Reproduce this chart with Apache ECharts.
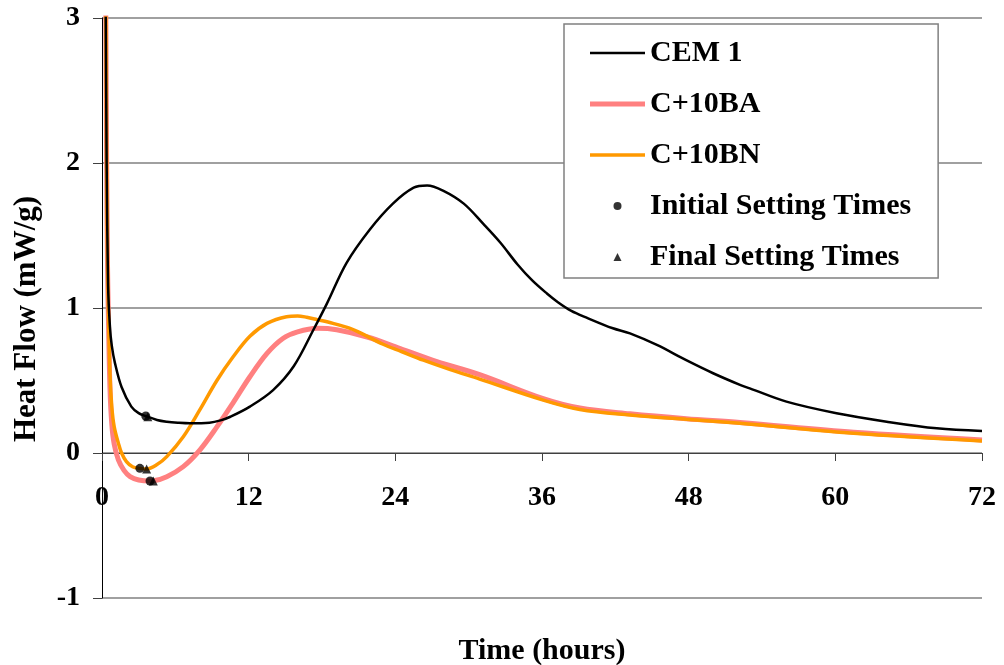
<!DOCTYPE html>
<html>
<head>
<meta charset="utf-8">
<script src="https://cdn.jsdelivr.net/npm/echarts@6/dist/echarts.min.js"></script>
<style>
html,body{margin:0;padding:0;background:#fff;}
#chart{width:1004px;height:665px;}
</style>
</head>
<body>
<div id="chart"></div>
<script>
// Data (time in hours, heat flow in mW/g)
const seriesNames = ['CEM 1', 'C+10BA', 'C+10BN', 'Initial Setting Times', 'Final Setting Times'];
const xTicks = [0, 12, 24, 36, 48, 60, 72];
const yTicks = [-1, 0, 1, 2, 3];

const cem1 = [
  [0.25, 3.6], [0.3, 3.1], [0.38, 2.0], [0.5, 1.15], [0.65, 0.87], [0.8, 0.74], [1.06, 0.62],
  [1.6, 0.455], [2.4, 0.32], [3.0, 0.275], [3.58, 0.255], [4.5, 0.228], [5.3, 0.216], [6.2, 0.209],
  [7.2, 0.205], [8.8, 0.209], [9.7, 0.225], [10.5, 0.25], [12.1, 0.32], [14.0, 0.434], [15.7, 0.6],
  [17.3, 0.85], [18.4, 1.03], [20.0, 1.31], [21.9, 1.54], [23.8, 1.72], [25.5, 1.83], [26.6, 1.845],
  [27.9, 1.81], [29.6, 1.72], [31.2, 1.58], [32.6, 1.45], [34.0, 1.30], [35.2, 1.19], [36.4, 1.10],
  [37.3, 1.04], [38.4, 0.98], [39.6, 0.935], [41.8, 0.86], [43.2, 0.825], [45.4, 0.745], [47.8, 0.64],
  [50.0, 0.55], [52.2, 0.47], [53.0, 0.446], [56.0, 0.354], [60.1, 0.274], [64.2, 0.216], [68.3, 0.17],
  [72, 0.152]
];
const c10ba = [
  [0.28, 3.4], [0.33, 2.8], [0.38, 2.0], [0.45, 1.3], [0.52, 0.95], [0.65, 0.45], [0.8, 0.2],
  [1.0, 0.06], [1.34, -0.048], [1.8, -0.12], [2.3, -0.163], [3.0, -0.186], [3.93, -0.193],
  [4.2, -0.192], [5.3, -0.163], [6.65, -0.094], [8.0, 0.02], [9.4, 0.18], [10.7, 0.343],
  [12.1, 0.526], [13.5, 0.687], [14.8, 0.79], [16.0, 0.835], [17.6, 0.86], [19.2, 0.85],
  [21.7, 0.80], [24.4, 0.72], [27.4, 0.63], [30.9, 0.54], [36.1, 0.375], [39.1, 0.31],
  [43.2, 0.27], [47.8, 0.236], [52.2, 0.21], [61.5, 0.143], [72, 0.09]
];
const c10bn = [
  [0.28, 3.4], [0.33, 2.8], [0.38, 2.0], [0.45, 1.35], [0.52, 1.0], [0.65, 0.55], [0.8, 0.32],
  [1.0, 0.18], [1.34, 0.067], [1.6, 0.0], [2.0, -0.06], [2.5, -0.095], [3.1, -0.106], [3.65, -0.11],
  [4.5, -0.08], [5.3, -0.025], [6.65, 0.112], [8.0, 0.297], [9.4, 0.5], [10.7, 0.66], [12.1, 0.805],
  [13.5, 0.894], [15.1, 0.94], [16.0, 0.945], [16.75, 0.936], [17.6, 0.92], [18.9, 0.894],
  [20.3, 0.86], [21.1, 0.83], [23.0, 0.75], [24.5, 0.70], [26.3, 0.64], [28.5, 0.575],
  [30.9, 0.51], [36.1, 0.365], [39.1, 0.30], [43.2, 0.262], [47.8, 0.232], [50.6, 0.216],
  [52.2, 0.205], [61.5, 0.136], [72, 0.083]
];
const initialSet = [[3.58, 0.255], [3.1, -0.106], [3.93, -0.193]];
const finalSet = [[3.75, 0.25], [3.65, -0.11], [4.2, -0.193]];

const FONT = "'Liberation Serif', 'Times New Roman', serif";
const chart = echarts.init(document.getElementById('chart'), null, {renderer: 'canvas'});

// grid: 580px tall for 4 units -> the 0 line is 145px above the bottom edge
const ZERO_OFFSET = -145;

chart.setOption({
  animation: false,
  backgroundColor: '#fff',
  grid: {left: 102, right: 22, top: 18, bottom: 67, outerBoundsMode: 'none'},
  legend: {
    orient: 'vertical',
    left: 564, top: 24,
    padding: [14, 27, 6, 26],
    borderColor: '#808080', borderWidth: 1.5,
    backgroundColor: '#fff',
    itemWidth: 55, itemHeight: 8, itemGap: 21,
    symbolKeepAspect: true,
    textStyle: {fontFamily: FONT, fontWeight: 'bold', fontSize: 30, color: '#000'},
    data: [
      {name: seriesNames[0], icon: 'path://M0,0H55V2.5H0Z'},
      {name: seriesNames[1], icon: 'path://M0,0H55V5H0Z'},
      {name: seriesNames[2], icon: 'path://M0,0H55V3.5H0Z'},
      {name: seriesNames[3], icon: 'circle'},
      {name: seriesNames[4], icon: 'path://M4,0L8,8L0,8Z'}
    ],
    z: 10
  },
  xAxis: {
    type: 'value', min: 0, max: 72, interval: 12,
    offset: ZERO_OFFSET,
    name: 'Time (hours)', nameLocation: 'middle', nameGap: 183,
    nameTextStyle: {fontFamily: FONT, fontWeight: 'bold', fontSize: 30, color: '#000'},
    axisLine: {onZero: false, lineStyle: {color: '#404040', width: 1}},
    axisTick: {show: true, inside: false, length: 8, lineStyle: {color: '#404040'}},
    axisLabel: {margin: 31, fontFamily: FONT, fontWeight: 'bold', fontSize: 28, color: '#000',
      formatter: v => xTicks.includes(v) ? String(v) : ''},
    splitLine: {show: false}
  },
  yAxis: {
    type: 'value', min: -1, max: 3, interval: 1,
    name: 'Heat Flow (mW/g)', nameLocation: 'middle', nameGap: 60, nameRotate: 90,
    nameTextStyle: {fontFamily: FONT, fontWeight: 'bold', fontSize: 31, color: '#000',
      padding: [0, 22, 0, 0]},
    axisLine: {show: true, lineStyle: {color: '#000', width: 1}},
    axisTick: {show: true, inside: false, length: 9, lineStyle: {color: '#404040'}},
    axisLabel: {margin: 22, fontFamily: FONT, fontWeight: 'bold', fontSize: 28, color: '#000',
      formatter: v => yTicks.includes(v) ? String(v) : ''},
    splitLine: {show: true, lineStyle: {color: '#808080', width: 1.5}}
  },
  series: [
    {name: seriesNames[0], type: 'line', data: cem1, symbol: 'none', smooth: 0.35,
      lineStyle: {color: '#000', width: 2.5}, itemStyle: {color: '#000'}, z: 4},
    {name: seriesNames[1], type: 'line', data: c10ba, symbol: 'none', smooth: 0.35,
      lineStyle: {color: '#FF8080', width: 5}, itemStyle: {color: '#FF8080'}, z: 2},
    {name: seriesNames[2], type: 'line', data: c10bn, symbol: 'none', smooth: 0.35,
      lineStyle: {color: '#FF9900', width: 3.5}, itemStyle: {color: '#FF9900'}, z: 3},
    {name: seriesNames[3], type: 'scatter', data: initialSet, symbol: 'circle', symbolSize: 9,
      itemStyle: {color: '#000'}, z: 6},
    {name: seriesNames[4], type: 'scatter', data: finalSet, symbol: 'triangle', symbolSize: 9,
      itemStyle: {color: '#000'}, z: 6}
  ]
});
</script>
</body>
</html>
